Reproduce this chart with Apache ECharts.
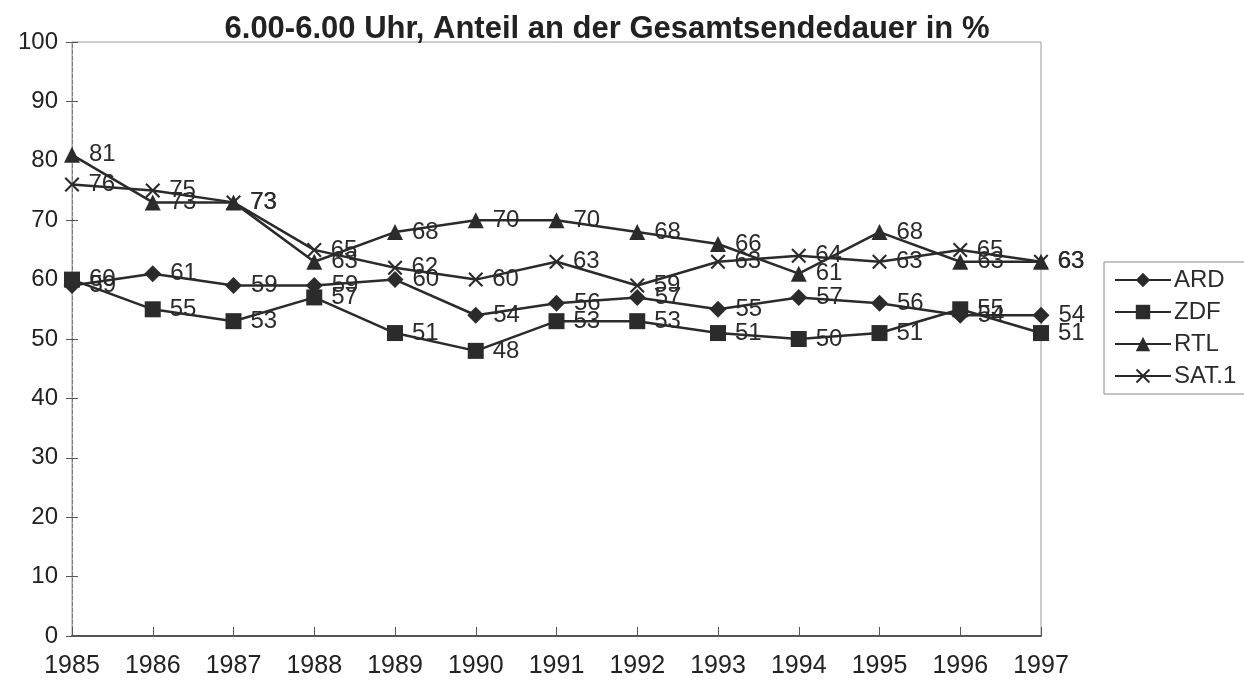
<!DOCTYPE html>
<html>
<head>
<meta charset="utf-8">
<script src="https://cdn.jsdelivr.net/npm/echarts@6/dist/echarts.min.js"></script>
<style>
  html, body { margin: 0; padding: 0; background: #fff; }
  #chart { width: 1244px; height: 687px; }
</style>
</head>
<body>
<div id="chart"></div>
<script>
// Jahre und Anteile (%) je Sender
const years = ["1985", "1986", "1987", "1988", "1989", "1990", "1991", "1992", "1993", "1994", "1995", "1996", "1997"];
const ard  = [59, 61, 59, 59, 60, 54, 56, 57, 55, 57, 56, 54, 54];
const zdf  = [60, 55, 53, 57, 51, 48, 53, 53, 51, 50, 51, 55, 51];
const rtl  = [81, 73, 73, 63, 68, 70, 70, 68, 66, 61, 68, 63, 63];
const sat1 = [76, 75, 73, 65, 62, 60, 63, 59, 63, 64, 63, 65, 63];

const ink = "#2b2b2b";
const font = "Liberation Sans, Arial, sans-serif";
const crossPath = "path://M0,1L1,0L5,4L9,0L10,1L6,5L10,9L9,10L5,6L1,10L0,9L4,5Z";

function makeSeries(name, data, symbol, size) {
    return {
        name: name, type: "line", data: data,
        symbol: symbol, symbolSize: size,
        lineStyle: { color: ink, width: 2.5 },
        itemStyle: { color: ink },
        label: { show: true, position: "right", distance: 9, color: ink, fontSize: 24, fontFamily: font },
        z: 3
    };
}

const chart = echarts.init(document.getElementById("chart"));
chart.setOption({
    animation: false,
    backgroundColor: "#fff",
    title: {
        text: "6.00-6.00 Uhr, Anteil an der Gesamtsendedauer in %",
        left: 602, top: 9, textAlign: "center",
        textStyle: { fontSize: 31, fontWeight: "bold", color: "#222", fontFamily: font }
    },
    grid: { left: 72, right: 203, top: 42, bottom: 51, show: true, borderColor: "#999", borderWidth: 1 },
    legend: {
        orient: "vertical", left: 1104, top: 262,
        itemWidth: 56, itemHeight: 18, itemGap: 8,
        padding: [6, 40, 6, 10],
        borderColor: "#888", borderWidth: 1,
        textStyle: { fontSize: 24, color: ink, fontFamily: font, padding: [0, 0, 0, -2] },
        data: ["ARD", "ZDF", "RTL", "SAT.1"]
    },
    xAxis: {
        type: "category", data: years, boundaryGap: false,
        axisLine: { lineStyle: { color: "#555", width: 2 } },
        axisTick: { inside: true, length: 9, lineStyle: { color: "#555" } },
        axisLabel: { color: "#222", fontSize: 25, fontFamily: font, margin: 18 }
    },
    yAxis: [{
        type: "value", min: 0, max: 100, interval: 10,
        axisLine: { show: true, lineStyle: { color: "#777", type: "dashed" } },
        axisTick: { show: true, length: 6, lineStyle: { color: "#555" } },
        axisLabel: { color: "#222", fontSize: 24, fontFamily: font, margin: 14 },
        splitLine: { show: false }
    }, {
        type: "value", min: 0, max: 100, interval: 10, position: "left",
        axisLine: { show: false },
        axisTick: { show: true, inside: true, length: 6, lineStyle: { color: "#555" } },
        axisLabel: { show: false },
        splitLine: { show: false }
    }],
    series: [
        makeSeries("ARD", ard, "diamond", 17),
        makeSeries("ZDF", zdf, "rect", 16),
        makeSeries("RTL", rtl, "triangle", 16),
        makeSeries("SAT.1", sat1, crossPath, 15)
    ]
});
</script>
</body>
</html>
